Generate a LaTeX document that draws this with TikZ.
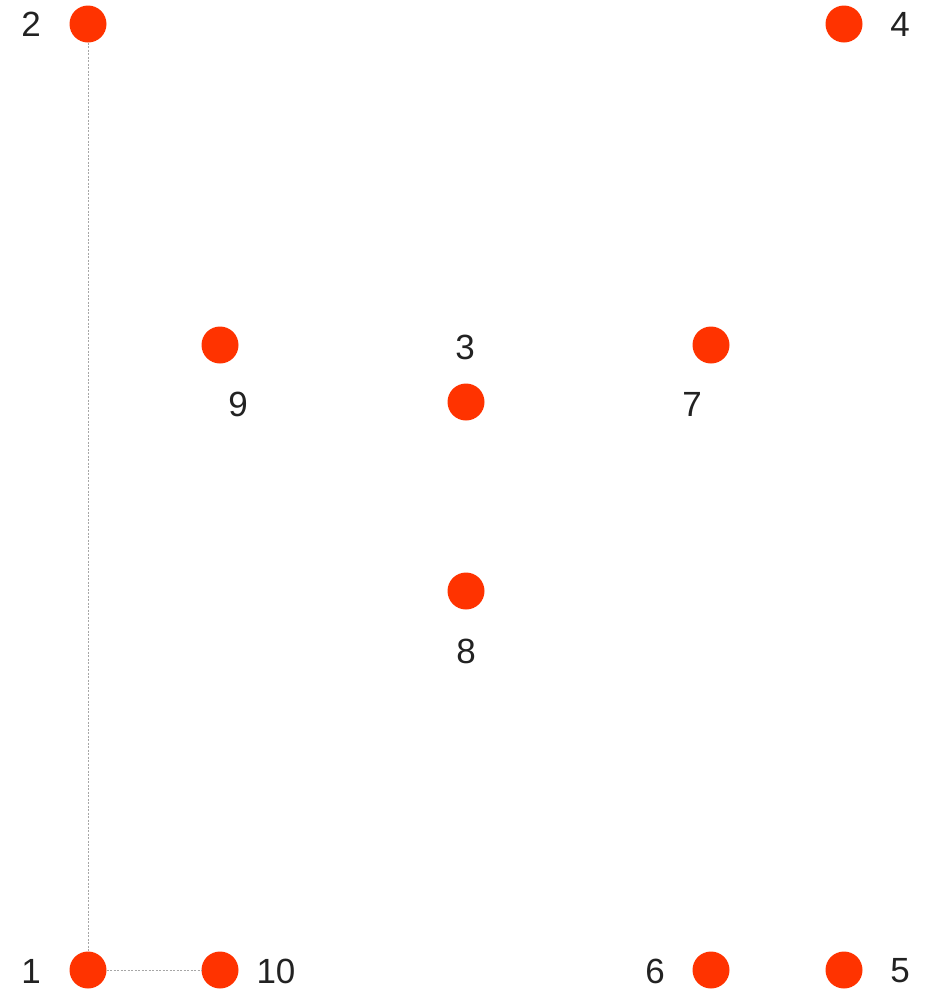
\documentclass[tikz,border=0pt]{standalone}
\usepackage{fontspec}
\setmainfont{Liberation Sans}
\usepackage{tikz}
\usetikzlibrary{positioning}
\definecolor{dotred}{RGB}{255,51,0}
\definecolor{numgray}{RGB}{34,34,34}

\begin{document}
\begin{tikzpicture}[
  x=1pt,y=-1pt,
  dot/.style={circle,fill=dotred,minimum size=37pt,inner sep=0pt},
  num/.style={text=numgray,font=\fontsize{35}{40}\selectfont,inner sep=0pt},
  guide/.style={draw=black!35,line width=0.6pt,dash pattern=on 2pt off 1.5pt},
]
\useasboundingbox (0,0) rectangle (933,989);
\node[dot] (p1) at (88,970) {};
\node[dot] (p2) at (88,24) {};
\node[dot] (p3) at (466,402) {};
\node[dot] (p4) at (844,24) {};
\node[dot] (p5) at (844,970) {};
\node[dot] (p6) at (711,970) {};
\node[dot] (p7) at (711,345) {};
\node[dot] (p8) at (466,591) {};
\node[dot] (p9) at (220,345) {};
\node[dot] (p10) at (220,970) {};

\node[num] (n1) at (31,971) {1};
\node[num] (n2) at (31,24) {2};
\node[num] (n3) at (465,347) {3};
\node[num] (n4) at (900,24) {4};
\node[num] (n5) at (900,971) {5};
\node[num] (n6) at (655,971) {6};
\node[num] (n7) at (692,404) {7};
\node[num] (n8) at (466,651) {8};
\node[num] (n9) at (238,404) {9};
\node[num] (n10) at (276,971) {10};

\draw[guide] (p2.south) -- (p1.north);
\draw[guide] (p1.east) -- (p10.west);
\end{tikzpicture}
\end{document}
